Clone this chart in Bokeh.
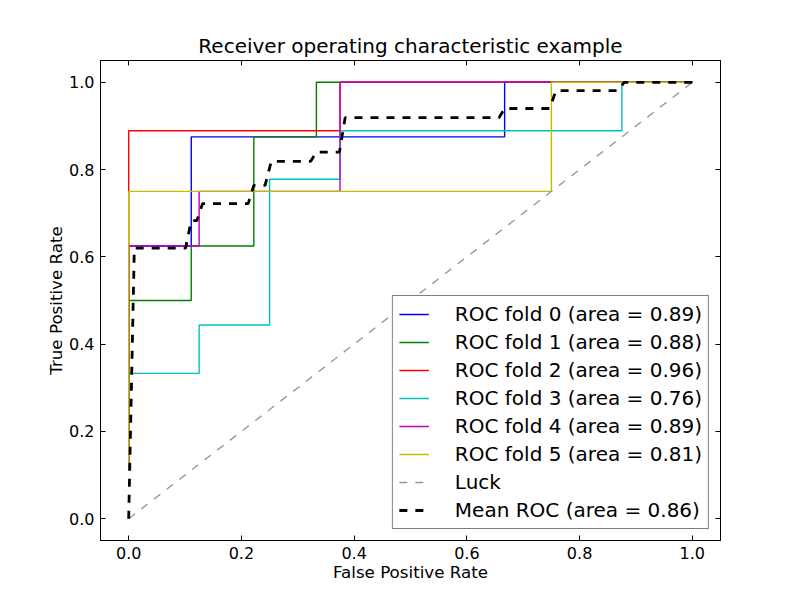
from bokeh.plotting import figure
from bokeh.models import Range1d, LinearAxis, FixedTicker, NumeralTickFormatter, Legend
from bokeh.embed import file_html
from bokeh.resources import INLINE

# Per-fold ROC curves (false positive rate, true positive rate)
fold0_fpr = [0.0, 0.0, 0.111, 0.111, 0.667, 0.667, 1.0]
fold0_tpr = [0.125, 0.625, 0.625, 0.875, 0.875, 1.0, 1.0]

fold1_fpr = [0.0, 0.0, 0.111, 0.111, 0.222, 0.222, 0.333, 0.333, 1.0]
fold1_tpr = [0.125, 0.5, 0.5, 0.625, 0.625, 0.875, 0.875, 1.0, 1.0]

fold2_fpr = [0.0, 0.0, 0.375, 0.375, 1.0]
fold2_tpr = [0.111, 0.889, 0.889, 1.0, 1.0]

fold3_fpr = [0.0, 0.0, 0.125, 0.125, 0.25, 0.25, 0.375, 0.375, 0.875, 0.875, 1.0]
fold3_tpr = [0.111, 0.333, 0.333, 0.444, 0.444, 0.778, 0.778, 0.889, 0.889, 1.0, 1.0]

fold4_fpr = [0.0, 0.0, 0.125, 0.125, 0.375, 0.375, 1.0]
fold4_tpr = [0.125, 0.625, 0.625, 0.75, 0.75, 1.0, 1.0]

fold5_fpr = [0.0, 0.0, 0.75, 0.75, 1.0]
fold5_tpr = [0.125, 0.75, 0.75, 1.0, 1.0]

fold_areas = [0.89, 0.88, 0.96, 0.76, 0.89, 0.81]
fold_colors = ["#0000ff", "#008000", "#ff0000", "#00bfbf", "#bf00bf", "#bfbf00"]

# Chance diagonal
luck_x = [0.0, 1.0]
luck_y = [0.0, 1.0]

# Mean ROC across folds
mean_fpr = [0.0, 0.010, 0.101, 0.111, 0.121, 0.131, 0.212, 0.222, 0.242, 0.253,
            0.323, 0.333, 0.374, 0.384, 0.657, 0.667, 0.747, 0.758, 0.869, 0.879, 1.0]
mean_tpr = [0.0, 0.620, 0.620, 0.683, 0.683, 0.722, 0.722, 0.764, 0.764, 0.819,
            0.819, 0.840, 0.840, 0.919, 0.919, 0.940, 0.940, 0.981, 0.981, 1.0, 1.0]
mean_area = 0.86

ticks = [0.0, 0.2, 0.4, 0.6, 0.8, 1.0]

FONT = "DejaVu Sans"

p = figure(width=800, height=600, output_backend="svg", toolbar_location=None,
           x_range=Range1d(-0.05, 1.05), y_range=Range1d(-0.05, 1.05),
           min_border_left=100, min_border_right=80, min_border_top=60, min_border_bottom=60,
           title="Receiver operating characteristic example")
p.background_fill_color = "white"
p.border_fill_color = "white"
p.grid.visible = False
p.outline_line_color = "black"
p.outline_line_width = 1

p.title.align = "center"
p.title.text_font = FONT
p.title.text_font_size = "20px"
p.title.text_font_style = "normal"
p.title.text_color = "black"
p.title.standoff = 6

for ax in p.axis:
    ax.ticker = FixedTicker(ticks=ticks)
    ax.formatter = NumeralTickFormatter(format="0.0")
    ax.major_tick_in = 5
    ax.major_tick_out = 0
    ax.minor_tick_line_color = None
    ax.axis_line_color = "black"
    ax.major_tick_line_color = "black"
    ax.major_label_text_font = FONT
    ax.major_label_text_font_size = "16px"
    ax.major_label_text_color = "black"
    ax.major_label_standoff = 6
    ax.axis_label_text_font = FONT
    ax.axis_label_text_font_size = "16.7px"
    ax.axis_label_text_font_style = "normal"
    ax.axis_label_text_color = "black"
    ax.axis_label_standoff = 0

p.xaxis.axis_label = "False Positive Rate"
p.yaxis.axis_label = "True Positive Rate"

# tick marks on the opposite sides, no labels
for side in ("right", "above"):
    ax = LinearAxis(ticker=FixedTicker(ticks=ticks), major_tick_in=5, major_tick_out=0,
                    minor_tick_line_color=None, major_label_text_color=None,
                    axis_line_color="black", major_tick_line_color="black")
    p.add_layout(ax, side)

fprs = [fold0_fpr, fold1_fpr, fold2_fpr, fold3_fpr, fold4_fpr, fold5_fpr]
tprs = [fold0_tpr, fold1_tpr, fold2_tpr, fold3_tpr, fold4_tpr, fold5_tpr]

items = []
for i, (fx, fy) in enumerate(zip(fprs, tprs)):
    r = p.line(fx, fy, line_color=fold_colors[i], line_width=1.4)
    items.append(("ROC fold %d (area = %0.2f)" % (i, fold_areas[i]), [r]))

r_luck = p.line(luck_x, luck_y, line_color="#999999", line_width=1.4, line_dash="8 8")
items.append(("Luck", [r_luck]))

r_mean = p.line(mean_fpr, mean_tpr, line_color="black", line_width=2.8, line_dash="8 8")
items.append(("Mean ROC (area = %0.2f)" % mean_area, [r_mean]))

legend = Legend(items=items, location="bottom_right")
legend.label_text_font = FONT
legend.label_text_font_size = "20px"
legend.label_text_color = "black"
legend.glyph_width = 30
legend.glyph_height = 20
legend.label_height = 20
legend.label_standoff = 26
legend.spacing = 4
legend.padding = 6
legend.margin = 11
legend.border_line_color = "black"
legend.border_line_width = 1
legend.background_fill_color = "white"
legend.background_fill_alpha = 1.0
p.add_layout(legend, "center")

open("out.html", "w").write(file_html(p, INLINE))
